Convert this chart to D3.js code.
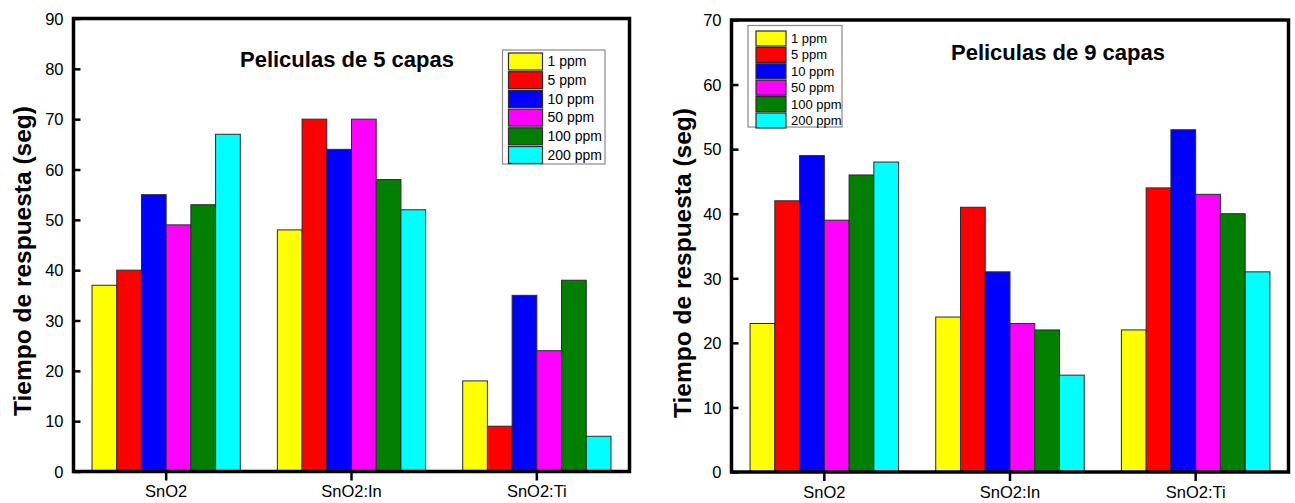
<!DOCTYPE html>
<html>
<head>
<meta charset="utf-8">
<script src="https://cdn.jsdelivr.net/npm/d3@7"></script>
<style>
  html, body { margin: 0; padding: 0; background: #fff; }
  svg { display: block; }
  text { font-family: "Liberation Sans", Arial, sans-serif; fill: #000; }
</style>
</head>
<body>
<svg id="chart" width="1295" height="503"></svg>
<script>
// ---- data ----
const categories = ["SnO2", "SnO2:In", "SnO2:Ti"];
const seriesNames = ["1 ppm", "5 ppm", "10 ppm", "50 ppm", "100 ppm", "200 ppm"];
const seriesColors = ["#FFFF00", "#FF0000", "#0000FF", "#FF00FF", "#007F00", "#00FFFF"];

// Películas de 5 capas: values per category, in series order
const capas5_SnO2   = [37, 40, 55, 49, 53, 67];
const capas5_SnO2In = [48, 70, 64, 70, 58, 52];
const capas5_SnO2Ti = [18, 9, 35, 24, 38, 7];

// Películas de 9 capas
const capas9_SnO2   = [23, 42, 49, 39, 46, 48];
const capas9_SnO2In = [24, 41, 31, 23, 22, 15];
const capas9_SnO2Ti = [22, 44, 53, 43, 40, 31];

const yTicks5 = [0, 10, 20, 30, 40, 50, 60, 70, 80, 90];
const yTicks9 = [0, 10, 20, 30, 40, 50, 60, 70];

const title5 = "Peliculas de 5 capas";
const title9 = "Peliculas de 9 capas";
const yLabel = "Tiempo de respuesta (seg)";

// ---- drawing ----
const svg = d3.select("#chart");

function drawPanel(opt) {
  const values = [opt.v0, opt.v1, opt.v2];
  const x = d3.scaleBand().domain(categories).range([opt.left, opt.right])
    .paddingInner(0.2).paddingOuter(0.1);
  const xs = d3.scaleBand().domain(seriesNames).range([0, x.bandwidth()]);
  const y = d3.scaleLinear().domain([0, opt.yMax]).range([opt.bottom, opt.top]);

  const g = svg.append("g");

  // bars
  categories.forEach((c, ci) => {
    g.append("g").selectAll("rect")
      .data(values[ci])
      .join("rect")
      .attr("x", (d, i) => x(c) + xs(seriesNames[i]))
      .attr("y", d => y(d))
      .attr("width", xs.bandwidth())
      .attr("height", d => y(0) - y(d))
      .attr("fill", (d, i) => seriesColors[i])
      .attr("stroke", "#2a2a2a")
      .attr("stroke-width", 1);
  });

  // y axis (ticks inward)
  const yAxis = d3.axisRight(y).tickValues(opt.yTicks).tickSize(7).tickFormat(d3.format("d"));
  const ya = g.append("g").attr("transform", `translate(${opt.left},0)`).call(yAxis);
  ya.select(".domain").remove();
  ya.selectAll(".tick line").attr("stroke", "#000").attr("stroke-width", 2.5);
  ya.selectAll(".tick text")
    .attr("x", -10).attr("text-anchor", "end")
    .style("font-size", "16.5px").attr("dy", "0.35em");

  // x axis (ticks outward)
  const xAxis = d3.axisBottom(x).tickSize(9).tickSizeOuter(0);
  const xa = g.append("g").attr("transform", `translate(0,${opt.bottom})`).call(xAxis);
  xa.select(".domain").remove();
  xa.selectAll(".tick line").attr("stroke", "#000").attr("stroke-width", 2.5);
  xa.selectAll(".tick text").attr("y", 14).style("font-size", "16.5px");

  // frame
  g.append("rect")
    .attr("x", opt.left).attr("y", opt.top)
    .attr("width", opt.right - opt.left).attr("height", opt.bottom - opt.top)
    .attr("fill", "none").attr("stroke", "#000").attr("stroke-width", 3.5);

  // title
  g.append("text")
    .attr("x", opt.titleX).attr("y", opt.titleY)
    .attr("text-anchor", "middle")
    .style("font-size", "22px").style("font-weight", "bold")
    .text(opt.title);

  // y label
  g.append("text")
    .attr("transform", `translate(${opt.yLabelX},${opt.yLabelY}) rotate(-90)`)
    .attr("text-anchor", "middle")
    .attr("dy", "0.35em")
    .style("font-size", "24.5px").style("font-weight", "bold")
    .text(yLabel);

  // legend
  const L = opt.legend;
  const lg = g.append("g");
  lg.append("rect")
    .attr("x", L.x).attr("y", L.y).attr("width", L.w).attr("height", L.h)
    .attr("fill", "#fff").attr("stroke", "#8a8a8a").attr("stroke-width", 1.2);
  const rows = lg.selectAll("g.row").data(seriesNames).join("g")
    .attr("transform", (d, i) => `translate(${L.x + L.padX},${L.y + L.padY + i * L.step})`);
  rows.append("rect")
    .attr("width", L.sw).attr("height", L.sh)
    .attr("fill", (d, i) => seriesColors[i])
    .attr("stroke", "#2a2a2a").attr("stroke-width", 1.2);
  rows.append("text")
    .attr("x", L.sw + 5).attr("y", L.sh / 2).attr("dy", "0.35em")
    .style("font-size", L.fs + "px")
    .text(d => d);
}

drawPanel({
  left: 73.5, right: 629.5, top: 18.5, bottom: 471.5, yMax: 90, yTicks: yTicks5,
  v0: capas5_SnO2, v1: capas5_SnO2In, v2: capas5_SnO2Ti,
  title: title5, titleX: 347, titleY: 67, yLabelX: 22, yLabelY: 261,
  legend: { x: 502.5, y: 50, w: 102.5, h: 114, padX: 6, padY: 3, step: 18.7, sw: 34, sh: 17, fs: 14 }
});

drawPanel({
  left: 731.5, right: 1288.5, top: 20, bottom: 472, yMax: 70, yTicks: yTicks9,
  v0: capas9_SnO2, v1: capas9_SnO2In, v2: capas9_SnO2Ti,
  title: title9, titleX: 1058, titleY: 60, yLabelX: 682, yLabelY: 263,
  legend: { x: 748, y: 25.5, w: 94, h: 101.5, padX: 8, padY: 5.5, step: 16.4, sw: 30, sh: 15, fs: 13 }
});
</script>
</body>
</html>
